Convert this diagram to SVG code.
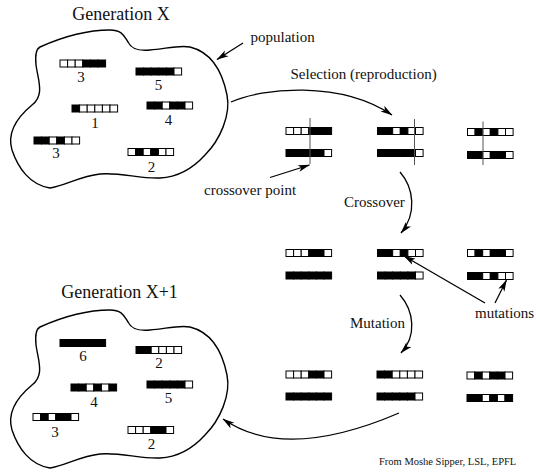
<svg xmlns="http://www.w3.org/2000/svg" width="536" height="472" viewBox="0 0 536 472">
<style>
.t{font-family:"Liberation Serif","Times New Roman","DejaVu Serif",serif;fill:#111}
.title{font-size:18px}
.lbl{font-size:15px}
.num{font-size:15px;text-anchor:middle}
.src{font-size:10.5px}
.blob{fill:none;stroke:#000;stroke-width:1.4}
.con{fill:none;stroke:#000;stroke-width:1.3}
.cut{stroke:#555;stroke-width:1}
</style>
<defs>
<rect id="W" width="7.6" height="7" fill="#fff" stroke="#000" stroke-width="1"/>
<rect id="B" width="7.6" height="7" fill="#000" stroke="#000" stroke-width="1"/>
<g id="WWWBBB"><use href="#W"/><use href="#W" x="7.6"/><use href="#W" x="15.2"/><use href="#B" x="22.8"/><use href="#B" x="30.4"/><use href="#B" x="38"/></g>
<g id="BBBBBW"><use href="#B"/><use href="#B" x="7.6"/><use href="#B" x="15.2"/><use href="#B" x="22.8"/><use href="#B" x="30.4"/><use href="#W" x="38"/></g>
<g id="BWWWWW"><use href="#B"/><use href="#W" x="7.6"/><use href="#W" x="15.2"/><use href="#W" x="22.8"/><use href="#W" x="30.4"/><use href="#W" x="38"/></g>
<g id="BBWBBW"><use href="#B"/><use href="#B" x="7.6"/><use href="#W" x="15.2"/><use href="#B" x="22.8"/><use href="#B" x="30.4"/><use href="#W" x="38"/></g>
<g id="BBWBWW"><use href="#B"/><use href="#B" x="7.6"/><use href="#W" x="15.2"/><use href="#B" x="22.8"/><use href="#W" x="30.4"/><use href="#W" x="38"/></g>
<g id="WBWBWW"><use href="#W"/><use href="#B" x="7.6"/><use href="#W" x="15.2"/><use href="#B" x="22.8"/><use href="#W" x="30.4"/><use href="#W" x="38"/></g>
<g id="BBBBBB"><use href="#B"/><use href="#B" x="7.6"/><use href="#B" x="15.2"/><use href="#B" x="22.8"/><use href="#B" x="30.4"/><use href="#B" x="38"/></g>
<g id="BBWWWW"><use href="#B"/><use href="#B" x="7.6"/><use href="#W" x="15.2"/><use href="#W" x="22.8"/><use href="#W" x="30.4"/><use href="#W" x="38"/></g>
<g id="BBWBWB"><use href="#B"/><use href="#B" x="7.6"/><use href="#W" x="15.2"/><use href="#B" x="22.8"/><use href="#W" x="30.4"/><use href="#B" x="38"/></g>
<g id="WBWBBW"><use href="#W"/><use href="#B" x="7.6"/><use href="#W" x="15.2"/><use href="#B" x="22.8"/><use href="#B" x="30.4"/><use href="#W" x="38"/></g>
<g id="WWWBBW"><use href="#W"/><use href="#W" x="7.6"/><use href="#W" x="15.2"/><use href="#B" x="22.8"/><use href="#B" x="30.4"/><use href="#W" x="38"/></g>
<path id="blobShape" d="M40,47 C60,38 85,30 110,30 C122,30 124,36 128,42 C132,50 140,51 150,50 C165,49 178,45 190,47 C210,52 222,70 227,95 C231,115 220,140 205,155 C195,166 180,177 160,178 C140,179 120,172 100,174 C80,176 65,186 50,188 C30,185 18,168 12,150 C6,130 20,115 32,105 C45,95 38,80 36,65 C35,55 36,49 40,47 Z"/>
<marker id="ah" viewBox="0 0 12 8" refX="11.5" refY="4" markerWidth="12" markerHeight="8" markerUnits="userSpaceOnUse" orient="auto"><path d="M0,0.6 L12,4 L0,7.4 L3,4 Z" fill="#000"/></marker>
</defs>

<g id="generationX">
<text class="t title" x="121" y="20" text-anchor="middle">Generation X</text>
<use href="#blobShape" class="blob"/>
<g id="x-ind1"><use href="#WWWBBB" x="60" y="60"/><text class="t num" x="81" y="82">3</text></g>
<g id="x-ind2"><use href="#BBBBBW" x="136" y="68"/><text class="t num" x="158.5" y="90">5</text></g>
<g id="x-ind3"><use href="#BWWWWW" x="72" y="105"/><text class="t num" x="95" y="128">1</text></g>
<g id="x-ind4"><use href="#BBWBBW" x="147" y="102"/><text class="t num" x="168.5" y="125">4</text></g>
<g id="x-ind5"><use href="#BBWBWW" x="34" y="137"/><text class="t num" x="56" y="158">3</text></g>
<g id="x-ind6"><use href="#WBWBWW" x="128" y="148.5"/><text class="t num" x="151.5" y="171.5">2</text></g>
</g>

<g id="population-label"><text class="t lbl" x="250.5" y="42">population</text></g>

<g id="selection">
<g id="s1"><use href="#WWWBBB" x="286" y="127.5"/><use href="#BBBBBW" x="286" y="149.5"/><line class="cut" x1="310" y1="118" x2="310" y2="164"/></g>
<g id="s2"><use href="#BBWBWW" x="377.5" y="127.5"/><use href="#BBBBBW" x="377.5" y="149.5"/><line class="cut" x1="414.5" y1="119" x2="414.5" y2="165"/></g>
<g id="s3"><use href="#WBWBWW" x="467.5" y="128.5"/><use href="#BBWBBW" x="467.5" y="151.5"/><line class="cut" x1="483" y1="121.5" x2="483" y2="165"/></g>
</g>

<g id="crossed">
<g id="c1"><use href="#WWWBBW" x="286" y="249.5"/><use href="#BBBBBB" x="286" y="272"/></g>
<g id="c2"><use href="#BBWBWW" x="377.5" y="249.5"/><use href="#BBBBBW" x="377.5" y="272"/></g>
<g id="c3"><use href="#WBWBBW" x="467.5" y="249.5"/><use href="#BBWBWW" x="467.5" y="272.5"/></g>
</g>

<g id="mutated">
<g id="m1"><use href="#WWWBBW" x="286" y="371"/><use href="#BBBBBB" x="286" y="393"/></g>
<g id="m2"><use href="#BBWWWW" x="377" y="371"/><use href="#BBBBBW" x="377" y="393"/></g>
<g id="m3"><use href="#WBWBBW" x="467" y="372"/><use href="#BBWBWB" x="467" y="394.5"/></g>
</g>

<g id="generationX1">
<text class="t title" x="119.5" y="298" text-anchor="middle">Generation X+1</text>
<use href="#blobShape" class="blob" transform="translate(0,280)"/>
<g id="y-ind1"><use href="#BBBBBB" x="60" y="339.5"/><text class="t num" x="83" y="360.5">6</text></g>
<g id="y-ind2"><use href="#BBWWWW" x="136" y="346.5"/><text class="t num" x="159" y="367.5">2</text></g>
<g id="y-ind3"><use href="#BBWBWB" x="71" y="384"/><text class="t num" x="94" y="406.5">4</text></g>
<g id="y-ind4"><use href="#BBBBBW" x="147" y="381"/><text class="t num" x="168.5" y="403">5</text></g>
<g id="y-ind5"><use href="#WBWBBW" x="33" y="413.5"/><text class="t num" x="55" y="436.5">3</text></g>
<g id="y-ind6"><use href="#WWWBBW" x="128" y="426.5"/><text class="t num" x="151.5" y="449">2</text></g>
</g>

<g id="connectors">
<path class="con" d="M243,43 L217,59.5" marker-end="url(#ah)"/>
<path class="con" d="M231,102 C262,88 340,80 392,115" marker-end="url(#ah)"/>
<path class="con" d="M270,177.5 L309.5,165" marker-end="url(#ah)"/>
<path class="con" d="M400,172 C414,188 417,214 401,233" marker-end="url(#ah)"/>
<path class="con" d="M485,303 L404,256" marker-end="url(#ah)"/>
<path class="con" d="M495,303 L506.5,280" marker-end="url(#ah)"/>
<path class="con" d="M400,295 C414,311 417,336 401,353" marker-end="url(#ah)"/>
<path class="con" d="M399,413 Q285,462 223,419" marker-end="url(#ah)"/>
</g>

<g id="labels">
<text class="t lbl" x="290.5" y="79">Selection (reproduction)</text>
<text class="t lbl" x="204" y="195">crossover point</text>
<text class="t lbl" x="344" y="207">Crossover</text>
<text class="t lbl" x="475" y="318">mutations</text>
<text class="t lbl" x="350" y="327.5">Mutation</text>
<text class="t src" x="379" y="465">From Moshe Sipper, LSL, EPFL</text>
</g>
</svg>
